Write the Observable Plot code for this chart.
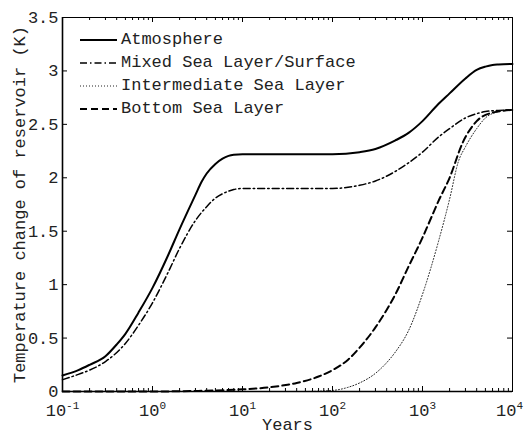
<!DOCTYPE html>
<html><head><meta charset="utf-8">
<script src="https://cdn.jsdelivr.net/npm/d3@7"></script>
<script src="https://cdn.jsdelivr.net/npm/@observablehq/plot@0.6"></script>
<style>
body{margin:0;background:#fff;}
#wrap{position:relative;width:524px;height:434px;}
#legend{position:absolute;left:80px;top:28px;font:17px "Liberation Mono",monospace;color:#222;}
.row{display:flex;align-items:center;height:23px;white-space:pre;}
.row svg{width:37px;height:10px;margin-right:4px;flex:none;}
</style></head><body><div id="wrap"><div id="legend"></div></div>
<script>
// ---- data ----
const seriesNames = ["Atmosphere", "Mixed Sea Layer/Surface", "Intermediate Sea Layer", "Bottom Sea Layer"];

const atmYears = [0.1, 0.15, 0.2, 0.3, 0.4, 0.5, 0.7, 1, 1.5, 2, 3, 3.5, 4, 5, 6, 7, 8, 10, 30, 100, 200, 300, 500, 700, 1000, 1500, 2000, 3000, 4000, 5000, 6000, 7000, 10000];
const atmTemp  = [0.15, 0.20, 0.25, 0.33, 0.44, 0.54, 0.74, 0.97, 1.28, 1.52, 1.84, 1.96, 2.04, 2.13, 2.18, 2.205, 2.215, 2.22, 2.22, 2.22, 2.24, 2.27, 2.35, 2.42, 2.53, 2.69, 2.79, 2.93, 3.01, 3.04, 3.055, 3.06, 3.065];

const mixYears = [0.1, 0.15, 0.2, 0.3, 0.5, 0.7, 1, 1.5, 2, 3, 4, 5, 6, 7, 8, 10, 30, 100, 200, 300, 500, 700, 1000, 1500, 2000, 3000, 4000, 5000, 7000, 10000];
const mixTemp  = [0.11, 0.16, 0.20, 0.28, 0.45, 0.62, 0.83, 1.12, 1.34, 1.60, 1.73, 1.81, 1.85, 1.875, 1.89, 1.90, 1.90, 1.90, 1.93, 1.97, 2.06, 2.14, 2.24, 2.38, 2.46, 2.56, 2.60, 2.62, 2.63, 2.635];

const intYears = [0.1, 1, 10, 50, 100, 150, 200, 300, 400, 500, 700, 1000, 1500, 2000, 2500, 3000, 4000, 5000, 7000, 10000];
const intTemp  = [0, 0, 0, 0, 0.01, 0.04, 0.08, 0.17, 0.27, 0.37, 0.57, 0.91, 1.40, 1.80, 2.15, 2.29, 2.46, 2.56, 2.62, 2.64];

const botYears = [0.1, 1, 3, 10, 20, 40, 70, 100, 150, 200, 300, 500, 700, 1000, 1300, 1500, 2000, 2800, 4000, 6000, 10000];
const botTemp  = [0, 0, 0.005, 0.02, 0.04, 0.08, 0.14, 0.20, 0.30, 0.41, 0.60, 0.91, 1.17, 1.44, 1.66, 1.78, 2.00, 2.33, 2.53, 2.61, 2.635];

const xMajor = [0.1, 1, 10, 100, 1000, 10000];
const xExp   = ["-1", "0", "1", "2", "3", "4"];
const yTicks = [0, 0.5, 1, 1.5, 2, 2.5, 3, 3.5];
const yLabels = ["0", "0.5", "1", "1.5", "2", "2.5", "3", "3.5"];
const xMinor = [];
for (let k = -1; k < 4; k++) for (let m = 2; m <= 9; m++) xMinor.push(m * Math.pow(10, k));

// ---- styles ----
const styles = [
  {w: 2, dash: null, color: "#000"},
  {w: 1.5, dash: "7,3,1.5,3", color: "#000"},
  {w: 1, dash: "1,2", color: "#222"},
  {w: 2, dash: "7,4", color: "#000"}
];

const W = 524, H = 434, mL = 62, mR = 12, mT = 17, mB = 43;
const ph = H - mT - mB, pw = W - mL - mR;
const toRows = (xs, ys) => xs.map((x, i) => ({x, y: ys[i]}));
const series = [toRows(atmYears, atmTemp), toRows(mixYears, mixTemp), toRows(intYears, intTemp), toRows(botYears, botTemp)];

const chart = Plot.plot({
  width: W, height: H,
  marginLeft: mL, marginRight: mR, marginTop: mT, marginBottom: mB,
  style: {fontFamily: "Liberation Mono, monospace", fontSize: "17px", color: "#222", background: "#fff"},
  x: {type: "log", domain: [0.1, 10000]},
  y: {domain: [0, 3.5]},
  marks: [
    Plot.axisX(xMajor, {tickSize: 0, tickPadding: 12, tickFormat: (d) => "10^" + xExp[xMajor.indexOf(d)],
      label: "Years", labelAnchor: "center", labelArrow: "none", labelOffset: 38}),
    Plot.axisY(yTicks, {tickSize: 0, tickPadding: 4, tickFormat: (d) => yLabels[yTicks.indexOf(d)],
      label: "Temperature change of reservoir (K)", labelAnchor: "center", labelArrow: "none", labelOffset: 50}),
    ...series.map((s, i) => Plot.line(s, {x: "x", y: "y", stroke: styles[i].color, strokeWidth: styles[i].w,
      strokeDasharray: styles[i].dash, curve: "monotone-x"})),
    Plot.ruleX(xMajor, {x: (d) => d, insetTop: ph - 5, stroke: "#000"}),
    Plot.ruleX(xMajor, {x: (d) => d, insetBottom: ph - 5, stroke: "#000"}),
    Plot.ruleX(xMinor, {x: (d) => d, insetTop: ph - 3, stroke: "#000"}),
    Plot.ruleX(xMinor, {x: (d) => d, insetBottom: ph - 3, stroke: "#000"}),
    Plot.ruleY(yTicks, {y: (d) => d, insetRight: pw - 5, stroke: "#000"}),
    Plot.ruleY(yTicks, {y: (d) => d, insetLeft: pw - 5, stroke: "#000"}),
    Plot.frame({stroke: "#000", strokeWidth: 1}),
    Plot.ruleX([0.1], {stroke: "#000", strokeWidth: 1.6}),
    Plot.ruleY([0], {stroke: "#000", strokeWidth: 1.6})
  ]
});

// superscript exponents on x tick labels
const xLabelNodes = chart.querySelectorAll('g[aria-label="x-axis tick label"] text');
xLabelNodes.forEach((t, i) => {
  const s = t.textContent;
  const exp = s.split("^")[1];
  t.textContent = "10";
  const ts = document.createElementNS("http://www.w3.org/2000/svg", "tspan");
  ts.setAttribute("dy", "-7");
  ts.setAttribute("font-size", "11");
  ts.textContent = exp;
  t.appendChild(ts);
  if (i === xLabelNodes.length - 1) t.setAttribute("dx", "-3");
});

document.getElementById("wrap").prepend(chart);

// legend
const legend = document.getElementById("legend");
seriesNames.forEach((name, i) => {
  const st = styles[i];
  const row = document.createElement("div");
  row.className = "row";
  row.innerHTML = `<svg viewBox="0 0 37 10"><line x1="0" y1="5" x2="37" y2="5" stroke="${st.color}" stroke-width="${st.w}" ${st.dash ? `stroke-dasharray="${st.dash}"` : ""}/></svg><span>${name}</span>`;
  legend.appendChild(row);
});
</script>
</body></html>
